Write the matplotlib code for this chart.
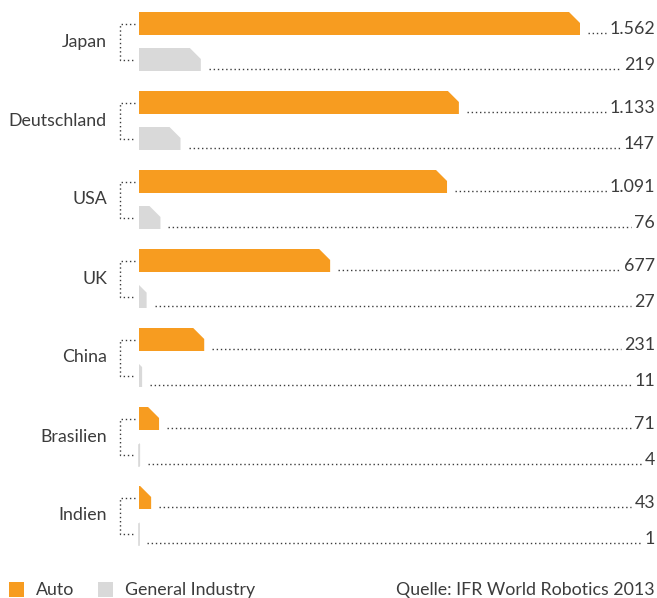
import matplotlib
matplotlib.use("Agg")
import matplotlib.pyplot as plt
from matplotlib.patches import Polygon

plt.rcParams["font.family"] = ["Lato", "DejaVu Sans"]

########### data
countries = ["Japan", "Deutschland", "USA", "UK", "China", "Brasilien", "Indien"]
auto = [1562, 1133, 1091, 677, 231, 71, 43]
general = [219, 147, 76, 27, 11, 4, 1]
source = "Quelle: IFR World Robotics 2013"

orange = "#f79c20"
grey = "#d9d9d9"
txt = "#3c3c3c"
fs = 12.8

W, H = 657, 598
x0 = 139            # px where bars start
scale = 441 / 1562  # px per unit
pitch = 79          # px between groups
bar_h = 23
cut = 11            # corner cut in px


def fmt(v):
    return f"{v:,}".replace(",", ".")


fig = plt.figure(figsize=(W / 100, H / 100), dpi=100)
ax = fig.add_axes([0, 0, 1, 1])
ax.set_xlim(-x0 / scale, (W - x0) / scale)
ax.set_ylim(H, 0)
ax.axis("off")

dots = dict(color=txt, lw=1, linestyle=(0, (1, 2)))


def bar(top, val, color):
    w = val
    c = min(cut / scale, w)
    cy = c * scale
    pts = [(0, top), (w - c, top), (w, top + cy), (w, top + bar_h), (0, top + bar_h)]
    ax.add_patch(Polygon(pts, closed=True, facecolor=color, edgecolor="none"))
    if val * scale < 1.5:
        ax.plot([0, 0], [top + 2, top + bar_h], color=color, lw=1.2)


fig.canvas.draw()
r = fig.canvas.get_renderer()

for i, name in enumerate(countries):
    ytop = 12 + i * pitch
    ya = ytop + bar_h / 2
    yg = ytop + 36 + bar_h / 2
    bar(ytop, auto[i], orange)
    bar(ytop + 36, general[i], grey)

    # bracket
    bx0, bx1 = -19 / scale, -4 / scale
    ax.plot([bx1, bx0, bx0, bx1], [ya, ya, yg, yg], **dots)
    ax.text(-32 / scale, (ya + yg) / 2, name, ha="right", va="center",
            fontsize=fs, color=txt)

    for val, top in [(auto[i], ytop), (general[i], ytop + 36)]:
        t = ax.text((655 - x0) / scale, top + bar_h - 1, fmt(val), ha="right",
                    va="baseline", fontsize=fs, color=txt)
        bb = t.get_window_extent(renderer=r)
        xl = (bb.x0 - 3 - x0) / scale
        xs = val + 8 / scale
        ax.plot([xs, xl], [top + bar_h - 2, top + bar_h - 2], **dots)

# legend and source
ly = 595
ax.add_patch(plt.Rectangle((-130 / scale, 582), 15 / scale, 15, color=orange, lw=0))
ax.text(-103 / scale, ly, "Auto", fontsize=fs, color=txt, va="baseline")
ax.add_patch(plt.Rectangle((-41 / scale, 582), 15 / scale, 15, color=grey, lw=0))
ax.text(-14 / scale, ly, "General Industry", fontsize=fs, color=txt, va="baseline")
ax.text((655 - x0) / scale, ly, source, ha="right", fontsize=fs, color=txt, va="baseline")

fig.savefig("out.png", dpi=100)
